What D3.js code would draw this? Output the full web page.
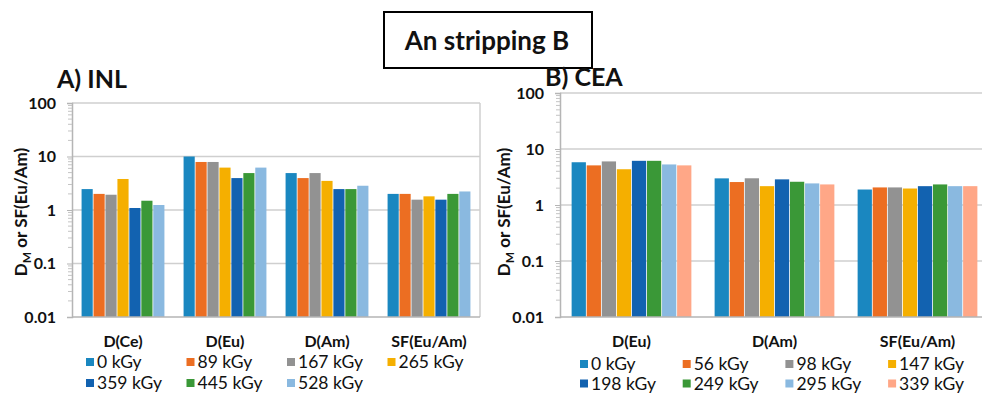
<!DOCTYPE html>
<html>
<head>
<meta charset="utf-8">
<script src="https://cdn.jsdelivr.net/npm/d3@7"></script>
<style>
  body { margin: 0; background: #fff; }
  text { font-family: Lato, "Open Sans", sans-serif; fill: #111; }
</style>
</head>
<body>
<svg></svg>
<script>
const width = 982;
const height = 394;

// data
const inlCats = ['D(Ce)', 'D(Eu)', 'D(Am)', 'SF(Eu/Am)'];
const inlDoses = ['0 kGy', '89 kGy', '167 kGy', '265 kGy', '359 kGy', '445 kGy', '528 kGy'];
const inlValues = [
  [2.46, 2.0, 1.93, 3.8, 1.09, 1.49, 1.24],
  [10.0, 7.9, 7.9, 6.2, 3.95, 4.9, 6.2],
  [4.9, 3.95, 4.9, 3.5, 2.46, 2.46, 2.84],
  [2.0, 2.0, 1.56, 1.8, 1.56, 2.0, 2.22]
];
const ceaCats = ['D(Eu)', 'D(Am)', 'SF(Eu/Am)'];
const ceaDoses = ['0 kGy', '56 kGy', '98 kGy', '147 kGy', '198 kGy', '249 kGy', '295 kGy', '339 kGy'];
const ceaValues = [
  [5.8, 5.1, 6.0, 4.35, 6.15, 6.15, 5.3, 5.1],
  [2.99, 2.57, 3.0, 2.17, 2.87, 2.6, 2.43, 2.33],
  [1.89, 2.06, 2.06, 1.97, 2.17, 2.33, 2.17, 2.17]
];
const yTicks = [0.01, 0.1, 1, 10, 100];
const colors = ['#1A87C0', '#EC6E22', '#929292', '#F5AF00', '#1262B0', '#3A9837', '#8AB9E0', '#FFA787'];

const svg = d3.select('svg').attr('width', width).attr('height', height);

// title box
svg.append('rect')
  .attr('x', 384).attr('y', 12).attr('width', 208).attr('height', 56)
  .attr('fill', 'none').attr('stroke', '#000').attr('stroke-width', 2);
svg.append('text')
  .attr('x', 487).attr('y', 50)
  .attr('text-anchor', 'middle')
  .style('font-size', '26px').style('font-weight', 'bold')
  .text('An stripping B');

function panel(opt) {
  const g = svg.append('g');
  const y = d3.scaleLog().domain([0.01, 100]).range([opt.bottom, opt.top]);
  const x = d3.scaleBand().domain(opt.cats).range([opt.left, opt.right])
    .paddingInner(opt.pad).paddingOuter(opt.pad / 2);
  const xs = d3.scaleBand().domain(d3.range(opt.doses.length)).range([0, x.bandwidth()]);

  // gridlines
  g.selectAll('line.grid')
    .data(yTicks.slice(1))
    .join('line')
    .attr('class', 'grid')
    .attr('x1', opt.left).attr('x2', opt.gridRight)
    .attr('y1', (d) => y(d)).attr('y2', (d) => y(d))
    .attr('stroke', '#cfcfcf').attr('stroke-width', 1.5);
  if (opt.border) {
    g.append('line')
      .attr('x1', opt.gridRight).attr('x2', opt.gridRight)
      .attr('y1', opt.top).attr('y2', opt.bottom)
      .attr('stroke', '#cfcfcf').attr('stroke-width', 1.5);
  }

  // bars
  g.selectAll('g.cat')
    .data(opt.values)
    .join('g')
    .attr('class', 'cat')
    .attr('transform', (d, i) => `translate(${x(opt.cats[i])},0)`)
    .selectAll('rect')
    .data((d) => d)
    .join('rect')
    .attr('x', (d, j) => xs(j) + 0.4)
    .attr('width', xs.bandwidth() - 0.8)
    .attr('y', (d) => y(d))
    .attr('height', (d) => opt.bottom - y(d))
    .attr('fill', (d, j) => colors[j]);

  // y axis
  const axis = d3.axisLeft(y)
    .tickValues(yTicks)
    .tickFormat((d) => String(d))
    .tickSize(5)
    .tickPadding(11);
  const ag = g.append('g').attr('transform', `translate(${opt.left},0)`).call(axis);
  ag.select('.domain').attr('stroke', '#b5b5b5').attr('stroke-width', 1.5);
  ag.selectAll('.tick line').attr('stroke', '#b5b5b5');
  ag.selectAll('.tick text')
    .style('font-size', '16px').style('font-weight', 'bold')
    .style('font-family', 'Lato, sans-serif').attr('fill', '#111');
  const minor = [];
  yTicks.slice(0, -1).forEach((t) => {
    for (let k = 2; k <= 9; k++) minor.push(t * k);
  });
  g.selectAll('line.minor')
    .data(minor)
    .join('line')
    .attr('class', 'minor')
    .attr('x1', opt.left - 4).attr('x2', opt.left)
    .attr('y1', (d) => y(d)).attr('y2', (d) => y(d))
    .attr('stroke', '#c4c4c4');
  // baseline
  g.append('line')
    .attr('x1', opt.left).attr('x2', opt.gridRight)
    .attr('y1', opt.bottom).attr('y2', opt.bottom)
    .attr('stroke', '#b5b5b5').attr('stroke-width', 1.5);

  // category labels
  g.selectAll('text.cat')
    .data(opt.cats)
    .join('text')
    .attr('class', 'cat')
    .attr('x', (d) => x(d) + x.bandwidth() / 2)
    .attr('y', 347)
    .attr('text-anchor', 'middle')
    .style('font-size', '16px').style('font-weight', 'bold')
    .text((d) => d);

  // panel title
  g.append('text')
    .attr('x', opt.titleX).attr('y', opt.titleY)
    .style('font-size', '25px').style('font-weight', 'bold')
    .text(opt.title);

  // y label
  const yl = g.append('text')
    .attr('transform', `translate(${opt.labelX},${opt.labelY}) rotate(-90)`)
    .attr('text-anchor', 'middle')
    .style('font-size', '17px').style('font-weight', 'bold');
  yl.append('tspan').text('D');
  yl.append('tspan').attr('dy', 4).style('font-size', '12px').text('M');
  yl.append('tspan').attr('dy', -4).text(' or SF(Eu/Am)');

  // legend
  const perRow = 4;
  const lg = g.selectAll('g.leg')
    .data(opt.doses)
    .join('g')
    .attr('class', 'leg')
    .attr('transform', (d, i) =>
      `translate(${opt.legX + (i % perRow) * opt.legStep},${opt.legY + Math.floor(i / perRow) * opt.legRow})`);
  lg.append('rect')
    .attr('x', 0).attr('y', -4).attr('width', 8).attr('height', 8)
    .attr('fill', (d, i) => colors[i]);
  lg.append('text')
    .attr('x', 11).attr('y', 6)
    .style('font-size', '17.5px')
    .text((d) => d);
}

panel({
  cats: inlCats, doses: inlDoses, values: inlValues,
  left: 72, right: 480, gridRight: 480, top: 103, bottom: 317, pad: 0.18, border: true,
  title: 'A) INL', titleX: 57, titleY: 88,
  labelX: 27, labelY: 212,
  legX: 86, legY: 362, legStep: 100.5, legRow: 21
});

panel({
  cats: ceaCats, doses: ceaDoses, values: ceaValues,
  left: 560, right: 989, gridRight: 982, top: 93, bottom: 317, pad: 0.157, border: false,
  title: 'B) CEA', titleX: 545, titleY: 86,
  labelX: 510, labelY: 212,
  legX: 580, legY: 364, legStep: 102.7, legRow: 19.5
});
</script>
</body>
</html>
